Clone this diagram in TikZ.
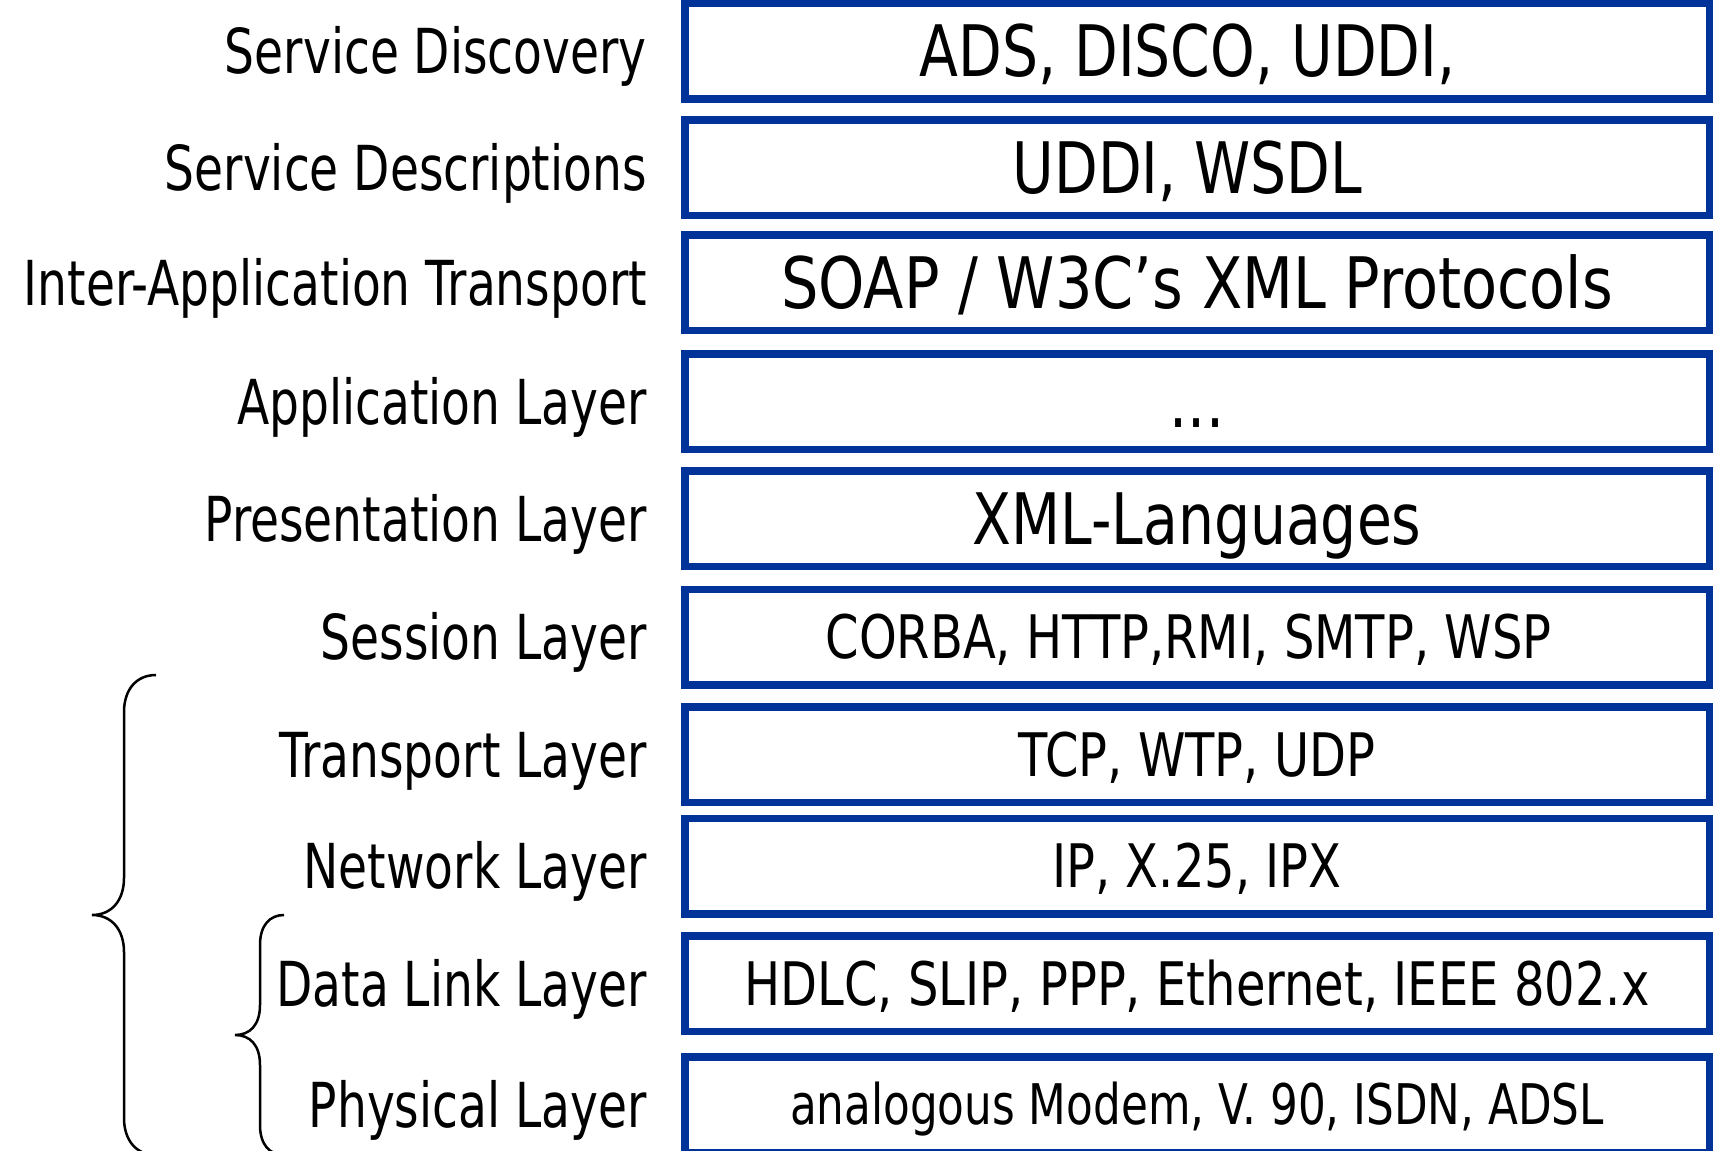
\documentclass[tikz,border=0pt]{standalone}
\usepackage{fontspec}
\setmainfont[FakeStretch=0.76]{DejaVu Sans}
\newfontfamily\boxfont[FakeStretch=0.80]{DejaVu Sans}
\newfontfamily\soapfont[FakeStretch=0.83]{DejaVu Sans}
\newfontfamily\physfont[FakeStretch=0.78]{DejaVu Sans}
\definecolor{boxblue}{HTML}{003399}
\begin{document}
\begin{tikzpicture}[x=1pt,y=-1pt,
  layerbox/.style={draw=boxblue, line width=7.5pt, rectangle, minimum width=1024.5pt, minimum height=95.5pt, inner sep=0pt, fill=white},
  bigtxt/.style={font=\boxfont\fontsize{71}{80}\selectfont, text height=51.8pt, text depth=0pt},
  soaptxt/.style={font=\soapfont\fontsize{71}{80}\selectfont, text height=51.8pt, text depth=0pt},
  smalltxt/.style={font=\boxfont\fontsize{60}{68}\selectfont, text height=43.7pt, text depth=0pt},
  phystxt/.style={font=\physfont\fontsize{56}{64}\selectfont, text height=40.8pt, text depth=0pt},
  lbl/.style={anchor=east, inner sep=0pt, font=\fontsize{62}{70}\selectfont, text height=45.2pt, text depth=0pt},
  bracepath/.style={draw=black, line width=2.5pt}]
\useasboundingbox (0,0) rectangle (1714,1151);
\clip (0,0) rectangle (1714,1151);

% layer boxes
\node[layerbox,bigtxt]   (b1)  at (1197,51)    {ADS, DISCO, UDDI,\hspace*{19pt}};
\node[layerbox,bigtxt]   (b2)  at (1197,167.5) {UDDI, WSDL\hspace*{19pt}};
\node[layerbox,soaptxt]  (b3)  at (1197,282.5) {SOAP / W3C’s XML Protocols};
\node[layerbox,bigtxt]   (b4)  at (1197,401.5) {...};
\node[layerbox,bigtxt]   (b5)  at (1197,518.5) {XML-Languages};
\node[layerbox,smalltxt] (b6)  at (1197,637)   {CORBA, HTTP,RMI, SMTP, WSP\hspace*{17pt}};
\node[layerbox,smalltxt] (b7)  at (1197,754.5) {TCP, WTP, UDP};
\node[layerbox,smalltxt] (b8)  at (1197,866)   {IP, X.25, IPX};
\node[layerbox,smalltxt] (b9)  at (1197,983.5) {HDLC, SLIP, PPP, Ethernet, IEEE 802.x};
\node[layerbox,phystxt]  (b10) at (1197,1104.5) {analogous Modem, V. 90, ISDN, ADSL};

% labels
\node[lbl] (l1)  at (647,51)    {Service Discovery};
\node[lbl] (l2)  at (647,167.5) {Service Descriptions};
\node[lbl] (l3)  at (647,282.5) {Inter-Application Transport};
\node[lbl] (l4)  at (647,401.5) {Application Layer};
\node[lbl] (l5)  at (647,518.5) {Presentation Layer};
\node[lbl] (l6)  at (647,637)   {Session Layer};
\node[lbl] (l7)  at (647,754.5) {Transport Layer};
\node[lbl] (l8)  at (647,866)   {Network Layer};
\node[lbl] (l9)  at (647,983.5) {Data Link Layer};
\node[lbl] (l10) at (647,1104.5) {Physical Layer};

% big brace
\draw[bracepath] (156,675) .. controls (136,675) and (124,690) .. (124,712)
  -- (124,878) .. controls (124,900) and (112,915) .. (92,915)
  .. controls (112,915) and (124,930) .. (124,952)
  -- (124,1118) .. controls (124,1140) and (136,1155) .. (156,1155);
% small brace
\draw[bracepath] (284,915) .. controls (270,915) and (260,925) .. (260,945)
  -- (260,1005) .. controls (260,1025) and (250,1035) .. (235,1035)
  .. controls (250,1035) and (260,1045) .. (260,1065)
  -- (260,1125) .. controls (260,1145) and (270,1155) .. (284,1155);
\end{tikzpicture}
\end{document}
